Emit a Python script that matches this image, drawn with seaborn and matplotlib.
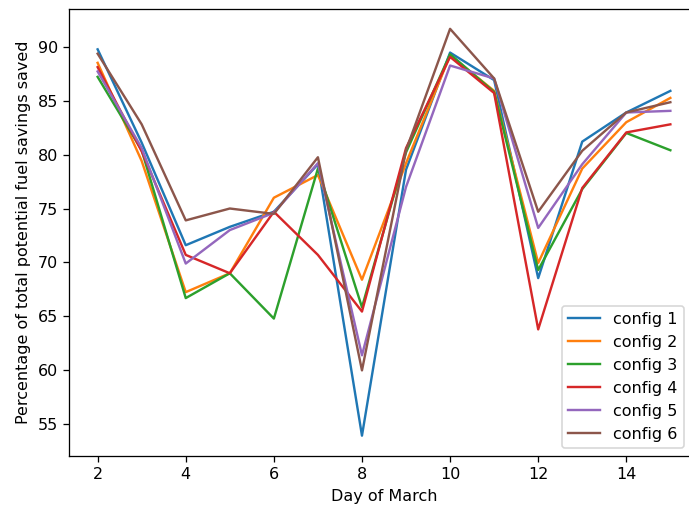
import matplotlib
matplotlib.use("Agg")
import matplotlib.pyplot as plt
import seaborn as sns
import pandas as pd

# Day of March for each measurement
days = [2, 3, 4, 5, 6, 7, 8, 9, 10, 11, 12, 13, 14, 15]

# Percentage of total potential fuel savings saved, per configuration
config_1 = [89.75, 81.1, 71.6, 73.3, 74.7, 79.1, 53.95, 78.6, 89.45, 86.9, 68.55, 81.2, 83.9, 85.9]
config_2 = [88.5, 79.4, 67.25, 69.0, 76.0, 78.1, 68.4, 79.2, 89.2, 85.9, 69.95, 78.7, 83.0, 85.25]
config_3 = [87.2, 80.4, 66.7, 69.0, 64.8, 78.7, 65.85, 80.2, 89.3, 85.8, 69.3, 76.8, 82.0, 80.4]
config_4 = [88.1, 80.3, 70.7, 69.0, 74.7, 70.7, 65.45, 80.6, 89.05, 85.7, 63.8, 76.9, 82.05, 82.8]
config_5 = [87.7, 80.6, 69.9, 73.0, 74.6, 79.2, 61.4, 77.0, 88.25, 87.05, 73.2, 79.1, 83.9, 84.05]
config_6 = [89.35, 82.8, 73.9, 75.0, 74.5, 79.75, 60.0, 80.4, 91.65, 87.05, 74.7, 80.35, 83.9, 84.85]

names = ["config 1", "config 2", "config 3", "config 4", "config 5", "config 6"]
series = [config_1, config_2, config_3, config_4, config_5, config_6]

df = pd.concat(
    [pd.DataFrame({"day": days, "saved": vals, "config": name})
     for name, vals in zip(names, series)],
    ignore_index=True,
)

DPI = 115
fig = plt.figure(figsize=(689 / DPI, 513 / DPI), dpi=DPI)
ax = fig.add_axes([69 / 689, 57 / 513, 630 / 689, 447.5 / 513])

palette = sns.color_palette("tab10", len(names))
for name, color in zip(names, palette):
    sub = df[df["config"] == name]
    sns.lineplot(data=sub, x="day", y="saved", ax=ax, color=color,
                 label=name, linewidth=1.5)

ax.set_xlabel("Day of March")
ax.set_ylabel("Percentage of total potential fuel savings saved")
ax.set_xticks([2, 4, 6, 8, 10, 12, 14])

ax.legend(loc="lower right", bbox_to_anchor=(684 / 689, 64.7 / 513),
          bbox_transform=fig.transFigure, borderaxespad=0)

fig.savefig("out.png", dpi=DPI)
